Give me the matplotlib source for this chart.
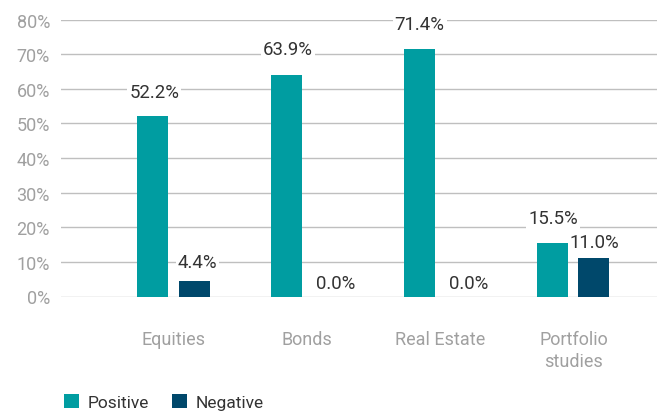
import matplotlib
matplotlib.use("Agg")
import matplotlib.pyplot as plt
import numpy as np

categories = ["Equities", "Bonds", "Real Estate", "Portfolio\nstudies"]
positive = [52.2, 63.9, 71.4, 15.5]
negative = [4.4, 0.0, 0.0, 11.0]
yticks = [0, 10, 20, 30, 40, 50, 60, 70, 80]
series_names = ["Positive", "Negative"]

# label offsets in pixels (dx, dy) relative to bar top center
pos_offsets = [(1.5, 24), (1.5, 26), (0, 25), (0, 24.5)]
neg_offsets = [(3.5, 19), (8, 13), (8, 13), (0, 16)]

plt.rcParams['font.family'] = ['Roboto', 'DejaVu Sans']

TEAL = "#009DA1"
NAVY = "#00486B"
GRID = "#BFBFBF"
TICK = "#A0A0A0"
LABEL = "#333333"

fig = plt.figure(figsize=(6.57, 4.14), dpi=100)
W, H = 657, 414
ax = fig.add_axes([61 / W, 1 - 297.5 / H, (657 - 61) / W, (297.5 - 20.5) / H])

x = np.arange(len(categories))
bw = 0.2325
off = 0.154
ax.bar(x - off, positive, bw, color=TEAL, label=series_names[0], zorder=3)
ax.bar(x + off, negative, bw, color=NAVY, label=series_names[1], zorder=3)

ax.set_ylim(0, 80)
ax.set_xlim(-0.844, 3.627)
ax.set_yticks(yticks)
ax.set_yticklabels([f"{t}%" for t in yticks])
ax.yaxis.grid(True, color=GRID, linewidth=1.0, zorder=0)
ax.set_axisbelow(True)
for s in ax.spines.values():
    s.set_visible(False)
ax.tick_params(axis='y', length=0, pad=8, labelsize=13, labelcolor=TICK)
ax.tick_params(axis='x', length=0, pad=24, labelsize=13, labelcolor=TICK)
ax.set_xticks(x)
ax.set_xticklabels(categories, linespacing=1.3)

bbox = dict(facecolor='white', edgecolor='none', pad=1.5)
for i in range(len(categories)):
    for vals, offs, sgn in ((positive, pos_offsets, -1), (negative, neg_offsets, 1)):
        dx, dy = offs[i]
        ax.annotate(f"{vals[i]:.1f}%", xy=(x[i] + sgn * off, vals[i]),
                    xytext=(dx * 0.72, dy * 0.72), textcoords='offset points',
                    ha='center', va='center', fontsize=13.4, color=LABEL,
                    bbox=bbox, zorder=2.5)

leg = fig.legend(loc='lower left', bbox_to_anchor=(54 / W, -0.018), ncol=2,
                 frameon=False, fontsize=12.5, handlelength=0.85, handleheight=0.85,
                 handletextpad=0.5, columnspacing=1.3, borderaxespad=0.2)
for t in leg.get_texts():
    t.set_color(LABEL)

fig.savefig("out.png", dpi=100)
